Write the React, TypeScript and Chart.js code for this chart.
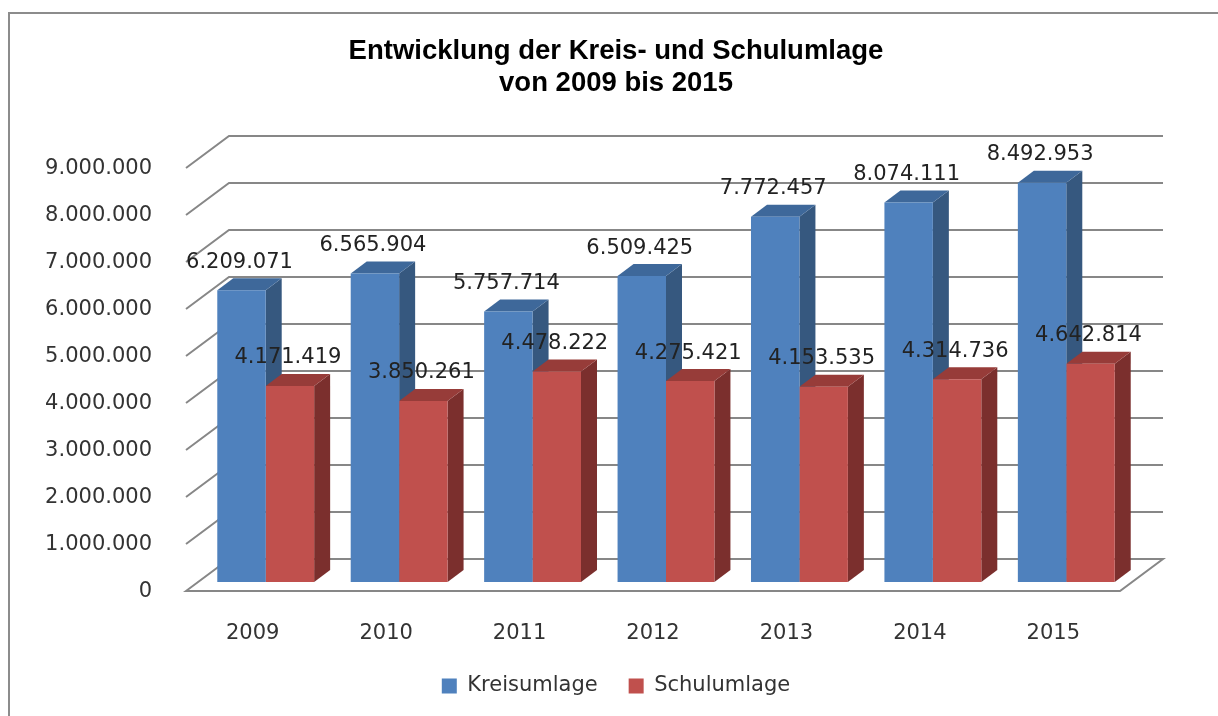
import React, { useEffect, useRef } from "react";
import { Chart, registerables } from "chart.js";

Chart.register(...registerables);

// ---- data ----
const categories = ["2009", "2010", "2011", "2012", "2013", "2014", "2015"];
const kreisumlage = [6209071, 6565904, 5757714, 6509425, 7772457, 8074111, 8492953];
const schulumlage = [4171419, 3850261, 4478222, 4275421, 4153535, 4314736, 4642814];
const seriesNames = ["Kreisumlage", "Schulumlage"];
const titleLines = ["Entwicklung der Kreis- und Schulumlage", "von 2009 bis 2015"];
const yMin = 0;
const yMax = 9000000;
const yStep = 1000000;

// ---- styles ----
const FRONT = ["#4F81BD", "#C0504D"];
const SIDE = ["#36587F", "#7B2F2D"];
const TOP = ["#3E689A", "#973C39"];
const FONT = '"DejaVu Sans", sans-serif';

// 3D offsets relative to the bar plane (Chart.js chart area)
const FRONT_DX = -13;
const FRONT_DY = 9;
const BACK_DX = 30;
const BACK_DY = -23;
const BAR_DX = 16;
const BAR_DY = -12;

const fmt = (v: number) =>
  Math.round(v)
    .toString()
    .replace(/\B(?=(\d{3})+(?!\d))/g, ".");

const threeD = {
  id: "threeD",
  beforeDatasetsDraw(chart: any) {
    const ctx = chart.ctx;
    const { left, right } = chart.chartArea;
    const ys = chart.scales.y;
    ctx.save();
    // outer frame
    ctx.strokeStyle = "#8c8c8c";
    ctx.lineWidth = 2;
    ctx.beginPath();
    ctx.moveTo(9, chart.height + 5);
    ctx.lineTo(9, 13);
    ctx.lineTo(chart.width + 5, 13);
    ctx.stroke();

    // walls / floor grid
    ctx.strokeStyle = "#878787";
    ctx.lineWidth = 2;
    ys.ticks.forEach((t: any) => {
      const y = ys.getPixelForValue(t.value);
      ctx.beginPath();
      ctx.moveTo(left + FRONT_DX, y + FRONT_DY);
      ctx.lineTo(left + BACK_DX, y + BACK_DY);
      ctx.lineTo(right + BACK_DX, y + BACK_DY);
      if (t.value === yMin) {
        ctx.lineTo(right + FRONT_DX, y + FRONT_DY);
        ctx.closePath();
      }
      ctx.stroke();
    });

    // side and top faces of bars
    const n = chart.data.labels.length;
    for (let i = 0; i < n; i++) {
      for (let d = 0; d < chart.data.datasets.length; d++) {
        const el = chart.getDatasetMeta(d).data[i];
        if (!el) continue;
        const { x, y, base, width } = el.getProps(["x", "y", "base", "width"], true);
        const l = x - width / 2;
        const r = x + width / 2;
        ctx.fillStyle = SIDE[d];
        ctx.beginPath();
        ctx.moveTo(r, y);
        ctx.lineTo(r + BAR_DX, y + BAR_DY);
        ctx.lineTo(r + BAR_DX, base + BAR_DY);
        ctx.lineTo(r, base);
        ctx.closePath();
        ctx.fill();
        ctx.fillStyle = TOP[d];
        ctx.beginPath();
        ctx.moveTo(l, y);
        ctx.lineTo(l + BAR_DX, y + BAR_DY);
        ctx.lineTo(r + BAR_DX, y + BAR_DY);
        ctx.lineTo(r, y);
        ctx.closePath();
        ctx.fill();
      }
    }
    ctx.restore();
  },
  afterDatasetsDraw(chart: any) {
    const ctx = chart.ctx;
    ctx.save();
    ctx.font = `21px ${FONT}`;
    ctx.fillStyle = "#222222";
    ctx.textAlign = "center";
    ctx.textBaseline = "middle";
    chart.data.datasets.forEach((ds: any, d: number) => {
      chart.getDatasetMeta(d).data.forEach((el: any, i: number) => {
        const { x, y } = el.getProps(["x", "y"], true);
        ctx.fillText(fmt(ds.data[i]), x - 2, y - 28);
      });
    });
    ctx.restore();
  },
};

export default function App() {
  const ref = useRef<HTMLCanvasElement>(null);
  useEffect(() => {
    if (!ref.current) return;
    const chart = new Chart(ref.current, {
      type: "bar",
      data: {
        labels: categories,
        datasets: [
          {
            label: seriesNames[0],
            data: kreisumlage,
            backgroundColor: FRONT[0],
            borderWidth: 0,
            yAxisID: "y",
          },
          {
            label: seriesNames[1],
            data: schulumlage,
            backgroundColor: FRONT[1],
            borderWidth: 0,
            yAxisID: "y",
          },
        ],
      },
      options: {
        responsive: false,
        animation: false,
        devicePixelRatio: 1,
        datasets: { bar: { categoryPercentage: 0.726, barPercentage: 1 } },
        layout: { padding: { left: 14, right: 0, top: 0, bottom: 9.5 } },
        scales: {
          x: {
            grid: { display: false },
            border: { display: false },
            ticks: {
              color: "#333333",
              font: { family: FONT, size: 21 },
              padding: 31,
              labelOffset: -13,
            },
            afterFit: (s: any) => {
              s.height = 62.5;
            },
          },
          y: {
            position: "left",
            min: yMin,
            max: yMax,
            grid: { display: false },
            border: { display: false },
            ticks: {
              stepSize: yStep,
              color: "#333333",
              font: { family: FONT, size: 21 },
              padding: 39,
              labelOffset: 10,
              callback: (v: any) => fmt(Number(v)),
            },
            afterFit: (s: any) => {
              s.width = 185;
            },
          },
          yRight: {
            position: "right",
            display: true,
            grid: { display: false },
            border: { display: false },
            ticks: { display: false },
            afterFit: (s: any) => {
              s.width = 85;
            },
          },
        },
        plugins: {
          title: {
            display: true,
            text: titleLines,
            color: "#000000",
            font: { family: '"Liberation Sans", Arial, sans-serif', size: 27.5, weight: "bold", lineHeight: "32px" },
            padding: { top: 35, bottom: 60 },
          },
          legend: {
            position: "bottom",
            labels: {
              color: "#333333",
              font: { family: FONT, size: 21 },
              boxWidth: 15,
              boxHeight: 15,
              padding: 31,
            },
          },
          tooltip: { enabled: false },
        },
      },
      plugins: [threeD],
    } as any);
    return () => chart.destroy();
  }, []);
  return (
    <div style={{ position: "absolute", left: 0, top: 0, width: 1218, height: 716, background: "#ffffff" }}>
      <canvas ref={ref} width={1218} height={716} />
    </div>
  );
}
